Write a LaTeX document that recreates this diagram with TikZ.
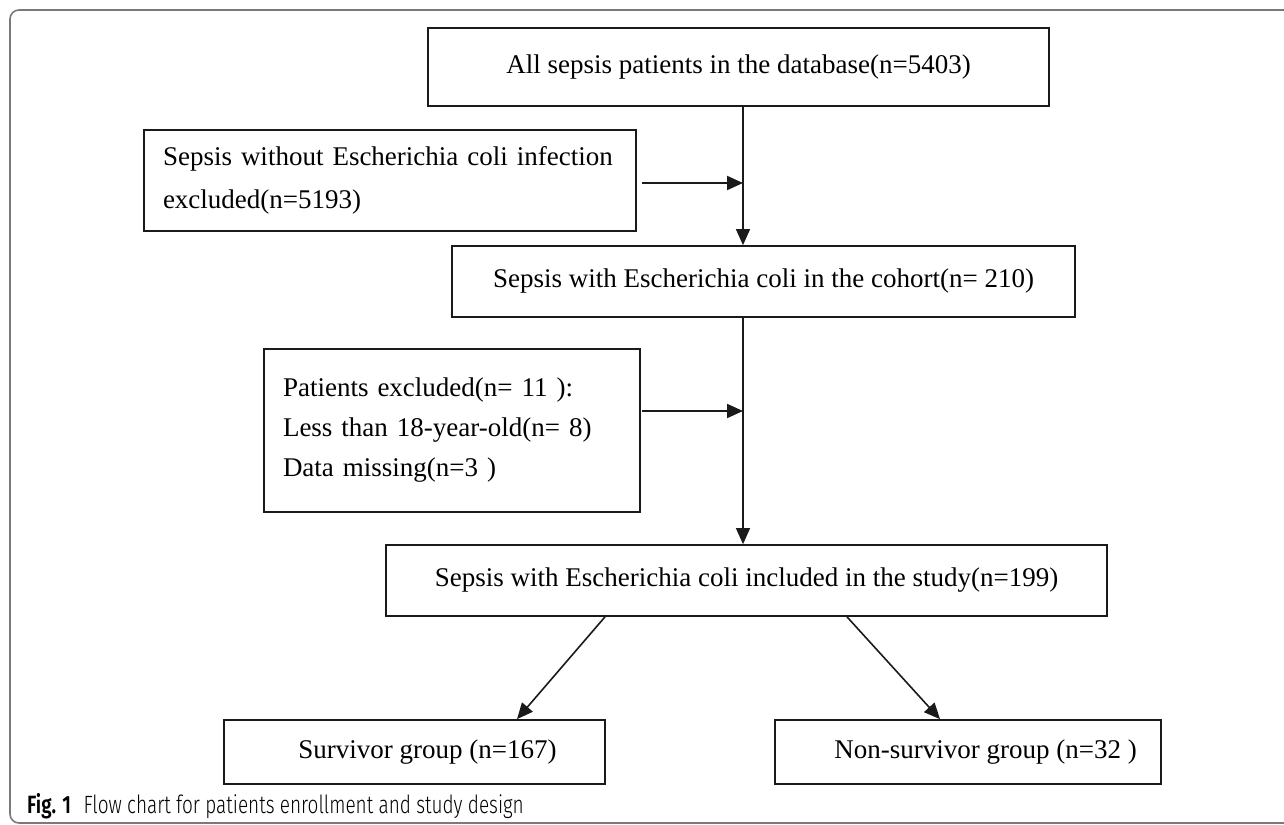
\documentclass[tikz,border=0pt]{standalone}
\usepackage{fontspec}
\setmainfont{Liberation Serif}
\newfontfamily\capfont[FakeStretch=0.76, UprightFont={* Light}, BoldFont={* SemiBold}]{Fira Sans}
\usetikzlibrary{arrows.meta}
\definecolor{framegray}{HTML}{7A7A7A}
\definecolor{ink}{HTML}{1A1A1A}
\tikzset{
  box/.style={draw=ink, line width=1.7pt, rectangle, inner sep=0pt, font=\fontsize{27}{40}\selectfont},
  txt/.style={inner sep=0pt, font=\fontsize{27}{40}\selectfont},
  arr/.style={draw=ink, line width=1.3pt, -{Triangle[length=16pt,width=14pt]}},
  harr/.style={arr, line width=2pt},
  capt/.style={inner sep=0pt, anchor=base west, font=\capfont\fontsize{25}{28}\selectfont}
}
\begin{document}
\begin{tikzpicture}[x=1pt,y=-1pt]
\useasboundingbox (0,0) rectangle (1284,824);
\begin{scope}
\clip (0,0) rectangle (1284,824);
\draw[framegray, line width=1.6pt, rounded corners=9pt] (10,10) rectangle (1300,823);
\end{scope}
% boxes
\node[box, minimum width=621pt, minimum height=78pt] (all) at (738.5,67) {All sepsis patients in the database(n=5403)};
\node[box, minimum width=492pt, minimum height=101pt, align=left, text width=454pt, inner xsep=19pt, font=\fontsize{27}{43}\selectfont] (exone) at (390,180.5)
  {Sepsis without Escherichia coli infection\\excluded(n=5193)};
\node[box, minimum width=623pt, minimum height=71pt] (cohort) at (763.5,281.5) {Sepsis with Escherichia coli in the cohort(n= 210)};
\node[box, minimum width=376pt, minimum height=163pt, align=left, text width=338pt, inner xsep=19pt] (extwo) at (452,430.5)
  {Patients excluded(n= 11 ):\\Less than 18-year-old(n= 8)\\Data missing(n=3 )};
\node[box, minimum width=721pt, minimum height=71pt] (incl) at (746.5,580.5) {Sepsis with Escherichia coli included in the study(n=199)};
\node[box, minimum width=381pt, minimum height=64pt] (surv) at (414.5,752) {};
\node[txt, anchor=west] (survt) at ([xshift=75pt]surv.west) {Survivor group (n=167)};
\node[box, minimum width=386pt, minimum height=64pt] (nons) at (968,752) {};
\node[txt, anchor=west] (nonst) at ([xshift=60pt]nons.west) {Non-survivor group (n=32 )};
% connectors
\coordinate (vx) at (743,0);
\draw[arr] (vx |- all.south) -- (vx |- cohort.north);
\draw[harr] ([xshift=5pt,yshift=-2.5pt]exone.east) -- ([yshift=-2.5pt]exone.east -| vx);
\draw[arr] (vx |- cohort.south) -- (vx |- incl.north);
\draw[harr] ([xshift=1pt,yshift=19.5pt]extwo.east) -- ([yshift=19.5pt]extwo.east -| vx);
\draw[arr, line width=1.6pt] ([xshift=-141.5pt]incl.south) -- ([xshift=102.5pt]surv.north);
\draw[arr, line width=1.6pt] ([xshift=100.5pt]incl.south) -- ([xshift=-28pt]nons.north);
% caption
\node[capt] (cap) at (27,813) {\textbf{Fig. 1}\hspace{0.5em}Flow chart for patients enrollment and study design};
\end{tikzpicture}
\end{document}
